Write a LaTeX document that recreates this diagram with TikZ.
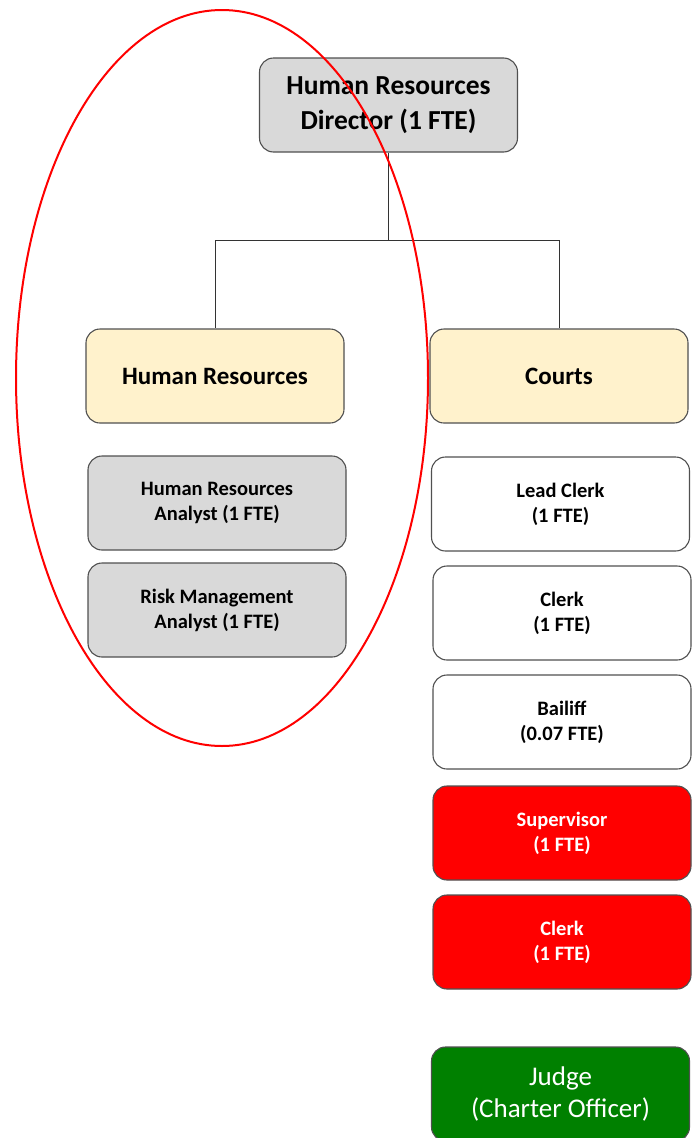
\documentclass[tikz,border=0pt]{standalone}
\usepackage{fontspec}
\setmainfont{Carlito}
\definecolor{boxgray}{HTML}{D9D9D9}
\definecolor{boxyellow}{HTML}{FFF2CC}
\definecolor{boxred}{HTML}{FF0000}
\definecolor{boxgreen}{HTML}{008000}
\definecolor{edgegray}{HTML}{505050}
\begin{document}
\begin{tikzpicture}[x=1pt,y=-1pt,
  orgbox/.style={draw=edgegray, line width=1.1pt, rounded corners=14pt,
    minimum width=258pt, minimum height=94pt, inner sep=0pt, align=center, font=\bfseries},
  topbox/.style={orgbox, fill=boxgray, font=\fontsize{27.5}{35}\selectfont\bfseries},
  unitbox/.style={orgbox, fill=boxyellow, font=\fontsize{25}{30}\selectfont\bfseries},
  graybox/.style={orgbox, fill=boxgray, font=\fontsize{20.5}{25}\selectfont\bfseries},
  whitebox/.style={orgbox, fill=white, font=\fontsize{20.5}{25}\selectfont\bfseries},
  redbox/.style={orgbox, fill=boxred, text=white, font=\fontsize{20.5}{25}\selectfont\bfseries},
  greenbox/.style={orgbox, fill=boxgreen, text=white, font=\fontsize{27}{32}\selectfont},
  link/.style={draw=black!80, line width=1pt}
]
\useasboundingbox (0,0) rectangle (692,1138);
\node[topbox] (dir) at (388.5,105) {Human Resources\\Director (1 FTE)};
\node[unitbox] (hr) at (215,376) {Human Resources};
\node[unitbox] (courts) at (559,376) {Courts};
\node[graybox] (hra) at (217,503) {Human Resources\\Analyst (1 FTE)};
\node[graybox] (rma) at (217,610) {Risk Management\\Analyst (1 FTE)};
\node[whitebox] (lead) at (560.5,504) {Lead Clerk\\(1 FTE)};
\node[whitebox] (clerk) at (562,613) {Clerk\\(1 FTE)};
\node[whitebox] (bail) at (562,722) {Bailiff\\(0.07 FTE)};
\node[redbox] (sup) at (562,833) {Supervisor\\(1 FTE)};
\node[redbox] (clerk2) at (562,942) {Clerk\\(1 FTE)};
\node[greenbox] (judge) at (560.5,1094) {Judge\\(Charter Officer)};
\coordinate (j) at (388.5,240);
\draw[link] (dir.south) -- (j);
\draw[link] (j) -| (hr.north);
\draw[link] (j) -| (courts.north);
\draw[red, line width=2pt] (222,378) ellipse [x radius=206, y radius=368];
\end{tikzpicture}
\end{document}
